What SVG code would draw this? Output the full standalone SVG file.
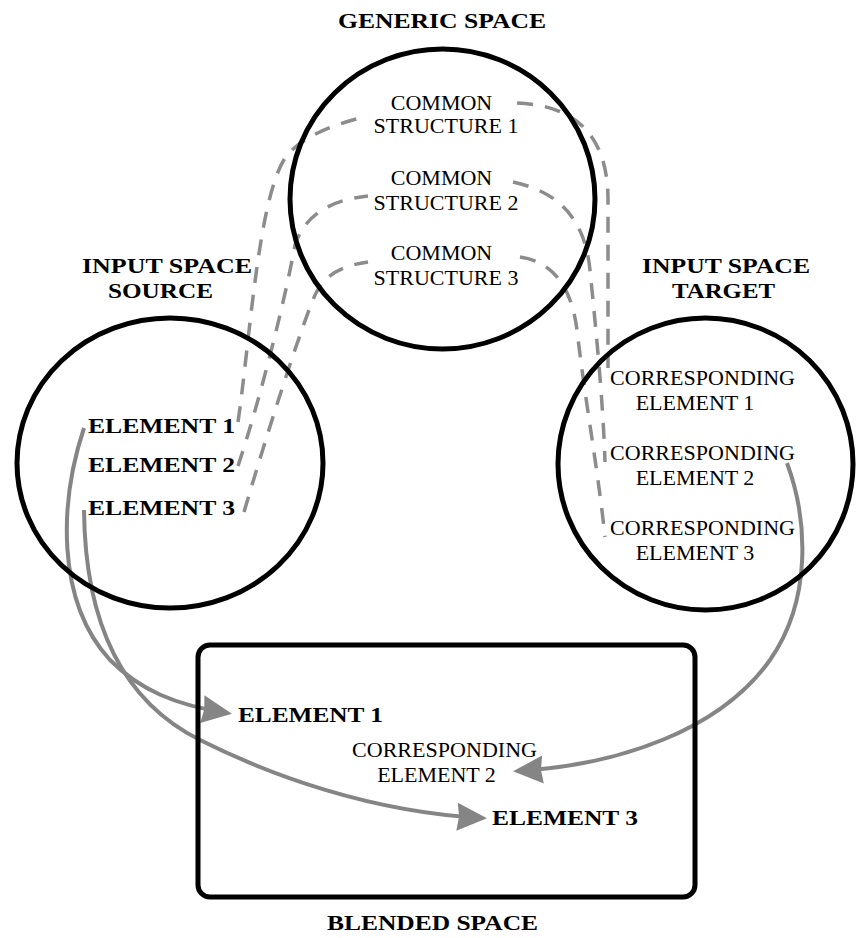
<svg xmlns="http://www.w3.org/2000/svg" width="856" height="938" viewBox="0 0 856 938">
<style>
.shape{fill:none;stroke:#000;stroke-width:5}
.t{font-family:"Liberation Serif","Times New Roman",serif;font-size:22px;fill:#000}
.b{font-weight:bold}
.dash{fill:none;stroke:#8c8c8c;stroke-width:3.5;stroke-dasharray:16 12}
.solid{fill:none;stroke:#858585;stroke-width:4;marker-end:url(#arr)}
</style>
<defs>
<marker id="arr" markerUnits="userSpaceOnUse" markerWidth="30" markerHeight="30" viewBox="0 0 30 30" refX="25" refY="15" orient="auto">
<path d="M0,1 L30,15 L0,29 L2,15 z" fill="#858585"/>
</marker>
</defs>
<rect width="856" height="938" fill="#fff"/>
<g id="connectors">
<path class="dash" d="M238 422 C250 340 258 200 285 158 C300 138 330 125 368 116"/>
<path class="dash" d="M238 466 C260 400 285 300 295 245 C305 215 330 200 368 196"/>
<path class="dash" d="M244 512 C265 440 300 330 315 295 C325 275 340 266 368 262"/>
<path class="dash" d="M517 103 C570 105 608 130 608 200 L608 368"/>
<path class="dash" d="M513 182 C560 192 585 220 590 270 C596 330 603 400 605 462"/>
<path class="dash" d="M520 257 C555 262 572 290 577 330 C585 400 598 470 605 537"/>
<path class="solid" d="M84 428 C60 500 55 600 110 660 C140 690 175 705 227 713"/>
<path class="solid" d="M84 510 C85 620 120 700 200 740 C270 775 370 812 482 818"/>
<path class="solid" d="M787 463 C808 520 812 600 770 660 C720 730 620 765 518 771"/>
</g>
<g id="generic">
<ellipse class="shape" cx="442.5" cy="199" rx="152.5" ry="150"/>
<text class="t b" x="442" y="28" text-anchor="middle" textLength="208" lengthAdjust="spacingAndGlyphs">GENERIC SPACE</text>
<text class="t" x="441.5" y="110" text-anchor="middle">COMMON</text>
<text class="t" x="446" y="133" text-anchor="middle">STRUCTURE 1</text>
<text class="t" x="441.5" y="185" text-anchor="middle">COMMON</text>
<text class="t" x="446" y="210" text-anchor="middle">STRUCTURE 2</text>
<text class="t" x="441.5" y="260" text-anchor="middle">COMMON</text>
<text class="t" x="446" y="285" text-anchor="middle">STRUCTURE 3</text>
</g>
<g id="source">
<ellipse class="shape" cx="170" cy="463" rx="153" ry="145"/>
<text class="t b" x="167" y="273" text-anchor="middle" textLength="170" lengthAdjust="spacingAndGlyphs">INPUT SPACE</text>
<text class="t b" x="160.5" y="298" text-anchor="middle" textLength="105" lengthAdjust="spacingAndGlyphs">SOURCE</text>
<text class="t b" x="88" y="433" textLength="147" lengthAdjust="spacingAndGlyphs">ELEMENT 1</text>
<text class="t b" x="88" y="472" textLength="147" lengthAdjust="spacingAndGlyphs">ELEMENT 2</text>
<text class="t b" x="88" y="515" textLength="147" lengthAdjust="spacingAndGlyphs">ELEMENT 3</text>
</g>
<g id="target">
<ellipse class="shape" cx="705.5" cy="464" rx="147.5" ry="146"/>
<text class="t b" x="726" y="273" text-anchor="middle" textLength="168" lengthAdjust="spacingAndGlyphs">INPUT SPACE</text>
<text class="t b" x="723.5" y="298" text-anchor="middle" textLength="103" lengthAdjust="spacingAndGlyphs">TARGET</text>
<text class="t" x="702.5" y="385" text-anchor="middle" textLength="185">CORRESPONDING</text>
<text class="t" x="695" y="410" text-anchor="middle">ELEMENT 1</text>
<text class="t" x="702.5" y="460" text-anchor="middle" textLength="185">CORRESPONDING</text>
<text class="t" x="695" y="485" text-anchor="middle">ELEMENT 2</text>
<text class="t" x="702.5" y="535" text-anchor="middle" textLength="185">CORRESPONDING</text>
<text class="t" x="695" y="560" text-anchor="middle">ELEMENT 3</text>
</g>
<g id="blended">
<rect class="shape" x="198" y="645" width="497" height="252" rx="12"/>
<text class="t b" x="238" y="722" textLength="145" lengthAdjust="spacingAndGlyphs">ELEMENT 1</text>
<text class="t" x="444.5" y="757" text-anchor="middle" textLength="185">CORRESPONDING</text>
<text class="t" x="436.5" y="782" text-anchor="middle">ELEMENT 2</text>
<text class="t b" x="492" y="825" textLength="146" lengthAdjust="spacingAndGlyphs">ELEMENT 3</text>
<text class="t b" x="432.5" y="930" text-anchor="middle" textLength="211" lengthAdjust="spacingAndGlyphs">BLENDED SPACE</text>
</g>
</svg>
